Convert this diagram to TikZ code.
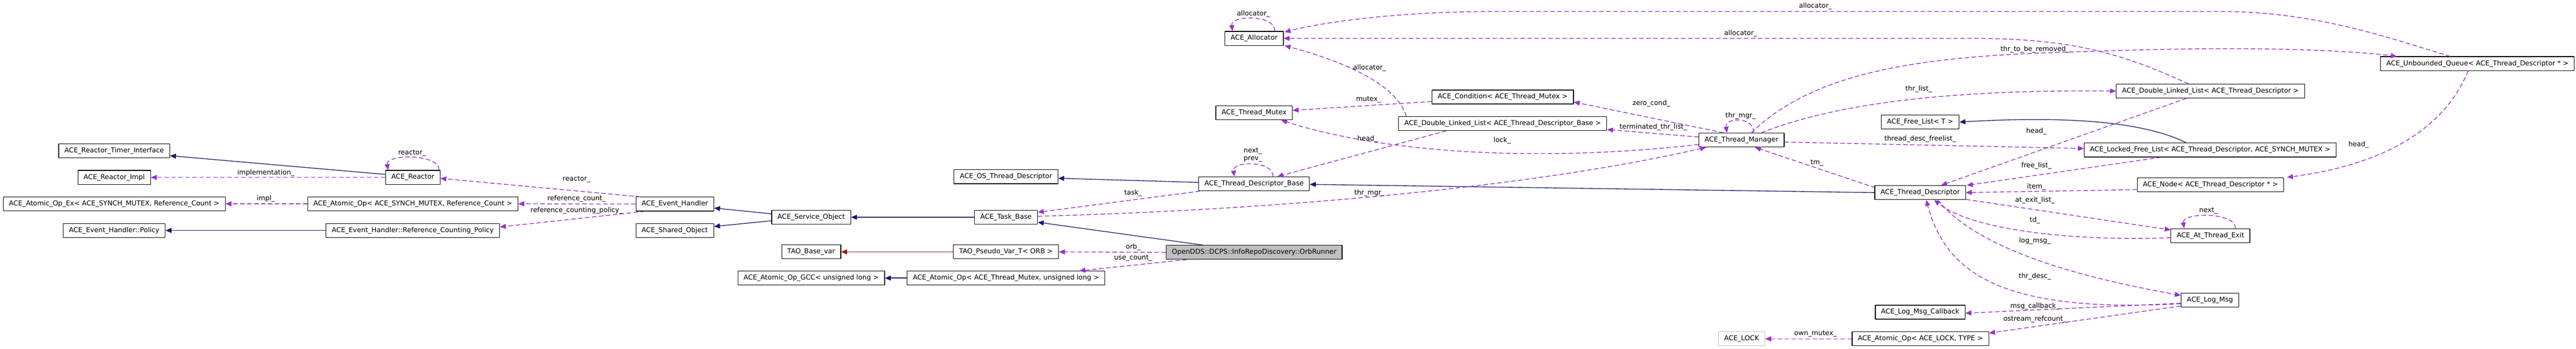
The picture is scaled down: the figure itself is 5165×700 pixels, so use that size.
\documentclass[tikz,border=0pt]{standalone}
\usepackage{fontspec}
\setmainfont{DejaVu Sans}
\usetikzlibrary{arrows.meta,calc}
\definecolor{edgeblue}{HTML}{191970}
\definecolor{edgered}{HTML}{8B1A1A}
\definecolor{edgepurple}{HTML}{9A32CD}

\begin{document}
\begin{tikzpicture}[x=1pt, y=-1pt, line join=round,
	every node/.style={font=\fontsize{13.6}{16}\selectfont},
	cls/.style={draw=black, line width=1.2pt, fill=white, minimum height=28pt, inner xsep=11.5pt, inner ysep=0pt},
	focus/.style={cls, fill=black!25},
	ghost/.style={cls, draw=black!25},
	inh/.style={draw=edgeblue, line width=1.4pt, -{Triangle[length=12pt,width=10pt]}},
	priv/.style={inh, draw=edgered},
	use/.style={draw=edgepurple, line width=1.5pt, dash pattern=on 9pt off 5pt, -{Triangle[length=12pt,width=10pt]}},
	lbl/.style={inner sep=1pt}]
	\useasboundingbox (0,0) rectangle (5165,700);

	\node[cls] (timer) at (229,302.5) {ACE\_Reactor\_Timer\_Interface};
	\node[cls] (rimpl) at (229,356) {ACE\_Reactor\_Impl};
	\node[cls] (opex) at (229,409) {ACE\_Atomic\_Op\_Ex< ACE\_SYNCH\_MUTEX, Reference\_Count >};
	\node[cls] (policy) at (229,462.5) {ACE\_Event\_Handler::Policy};
	\node[cls] (reactor) at (827.7,356) {ACE\_Reactor};
	\node[cls] (opref) at (827.7,409) {ACE\_Atomic\_Op< ACE\_SYNCH\_MUTEX, Reference\_Count >};
	\node[cls] (rcpol) at (827.7,462.5) {ACE\_Event\_Handler::Reference\_Counting\_Policy};
	\node[cls] (evh) at (1353,409.5) {ACE\_Event\_Handler};
	\node[cls] (shobj) at (1353,462.5) {ACE\_Shared\_Object};
	\node[cls] (svcobj) at (1626.5,436) {ACE\_Service\_Object};
	\node[cls] (tbvar) at (1626.5,505.5) {TAO\_Base\_var};
	\node[cls] (gcc) at (1626.5,558) {ACE\_Atomic\_Op\_GCC< unsigned long >};
	\node[cls] (ostd) at (2017,354.7) {ACE\_OS\_Thread\_Descriptor};
	\node[cls] (task) at (2017,436) {ACE\_Task\_Base};
	\node[cls] (pseudo) at (2017,505.5) {TAO\_Pseudo\_Var\_T< ORB >};
	\node[cls] (optm) at (2017,558) {ACE\_Atomic\_Op< ACE\_Thread\_Mutex, unsigned long >};
	\node[cls] (alloc) at (2514.5,77) {ACE\_Allocator};
	\node[cls] (tmutex) at (2514.5,226.5) {ACE\_Thread\_Mutex};
	\node[cls] (tdbase) at (2514.5,369) {ACE\_Thread\_Descriptor\_Base};
	\node[focus] (orb) at (2514.5,506.5) {OpenDDS::DCPS::InfoRepoDiscovery::OrbRunner};
	\node[cls] (cond) at (3013,194.7) {ACE\_Condition< ACE\_Thread\_Mutex >};
	\node[cls] (dlltdb) at (3013,248) {ACE\_Double\_Linked\_List< ACE\_Thread\_Descriptor\_Base >};
	\node[cls] (mgr) at (3491.7,281) {ACE\_Thread\_Manager};
	\node[ghost] (lock) at (3492,680) {ACE\_LOCK};
	\node[cls] (freel) at (3850,245) {ACE\_Free\_List< T >};
	\node[cls] (td) at (3850,386.5) {ACE\_Thread\_Descriptor};
	\node[cls] (lmcb) at (3850,626.5) {ACE\_Log\_Msg\_Callback};
	\node[cls] (oplock) at (3850.5,680) {ACE\_Atomic\_Op< ACE\_LOCK, TYPE >};
	\node[cls] (dlltd) at (4432,182.8) {ACE\_Double\_Linked\_List< ACE\_Thread\_Descriptor >};
	\node[cls] (lfl) at (4431.5,301) {ACE\_Locked\_Free\_List< ACE\_Thread\_Descriptor, ACE\_SYNCH\_MUTEX >};
	\node[cls] (tnode) at (4432,370.5) {ACE\_Node< ACE\_Thread\_Descriptor * >};
	\node[cls] (atexit) at (4432,473) {ACE\_At\_Thread\_Exit};
	\node[cls] (logmsg) at (4431,602.5) {ACE\_Log\_Msg};
	\node[cls] (uqueue) at (4967.5,127.7) {ACE\_Unbounded\_Queue< ACE\_Thread\_Descriptor * >};

	\draw[inh] ($(reactor.west)+(0,-6)$) -- ($(timer.east)+(0,10)$);
	\draw[use] (reactor.west) -- (rimpl.east);
	\draw[use] ($(reactor.north east)+(-3,0)$) .. controls +(3,-33) and +(-5,-33) .. ($(reactor.north west)+(5.5,0)$);
	\draw[use] ($(evh.north west)+(10,0)$) -- ($(reactor.east)+(0,2)$);
	\draw[use] (evh.west) -- (opref.east);
	\draw[use] ($(evh.south west)+(19,0)$) -- ($(rcpol.east)+(0,-7)$);
	\draw[use] (opref.west) -- (opex.east);
	\draw[inh] (rcpol.west) -- (policy.east);
	\draw[inh] ($(svcobj.west)+(0,-7)$) -- ($(evh.east)+(0,8)$);
	\draw[inh] ($(svcobj.west)+(0,7)$) -- ($(shobj.east)+(0,-8)$);
	\draw[inh] (task.west) -- (svcobj.east);
	\draw[priv] (pseudo.west) -- (tbvar.east);
	\draw[inh] (optm.west) -- (gcc.east);
	\draw[inh] ($(tdbase.west)+(0,-3)$) -- ($(ostd.east)+(0,3)$);
	\draw[inh] ($(orb.north west)+(75,0)$) -- ($(task.east)+(0,10)$);
	\draw[inh] (td.west) -- ($(tdbase.east)+(0,1)$);
	\draw[use] ($(tdbase.south west)+(3,0)$) -- ($(task.east)+(0,-10)$);
	\draw[use] ($(task.east)+(0,-2)$) .. controls (2600,420) and (3100,370) .. ($(mgr.south west)+(15,0)$);
	\draw[use] (orb.west) -- (pseudo.east);
	\draw[use] ($(orb.south west)+(42,0)$) -- ($(optm.north east)+(-52,0)$);
	\draw[use] ($(tdbase.north east)+(-74,0)$) .. controls +(3,-32) and +(-5,-32) .. ($(tdbase.north west)+(72,0)$);
	\draw[use] ($(dlltdb.south west)+(96,0)$) -- ($(tdbase.north east)+(-65,0)$);
	\draw[use] ($(dlltdb.north west)+(16,0)$) .. controls (2800,170) and (2700,125) .. ($(alloc.south east)+(2,0)$);
	\draw[use] ($(cond.west)+(0,9)$) -- ($(tmutex.east)+(0,-5)$);
	\draw[use] ($(mgr.west)+(0,9)$) .. controls (3050,330) and (2750,300) .. ($(tmutex.south east)+(-23,0)$);
	\draw[use] ($(mgr.north west)+(50,0)$) -- ($(cond.east)+(0,10)$);
	\draw[use] ($(mgr.west)+(0,-6)$) -- ($(dlltdb.east)+(0,12)$);
	\draw[use] ($(mgr.north)+(24,0)$) .. controls +(3,-32) and +(-5,-32) .. ($(mgr.north)+(-29,0)$);
	\draw[use] ($(mgr.north)+(20,0)$) .. controls (3650,130) and (3900,110) .. (4200,103) .. controls (4500,92) and (4700,100) .. ($(uqueue.north west)+(33,0)$);
	\draw[use] ($(mgr.north)+(40,0)$) .. controls (3700,200) and (3950,180) .. (dlltd.west);
	\draw[use] ($(mgr.east)+(0,4)$) -- ($(lfl.west)+(0,-3)$);
	\draw[use] ($(td.north west)+(2,5)$) -- ($(mgr.south)+(27,0)$);
	\draw[use] ($(dlltd.south west)+(141,0)$) -- ($(td.north)+(42,0)$);
	\draw[inh] ($(lfl.north west)+(205,0)$) .. controls (4300,245) and (4150,232) .. (freel.east);
	\draw[use] ($(lfl.south west)+(155,0)$) -- ($(td.north east)+(2,0)$);
	\draw[use] ($(tnode.west)+(0,10)$) -- (td.east);
	\draw[use] ($(td.south east)+(0,-1)$) -- ($(atexit.north west)+(0,3)$);
	\draw[use] ($(atexit.west)+(0,4)$) .. controls (4150,485) and (3950,460) .. ($(td.south)+(28,0)$);
	\draw[use] ($(atexit.north east)+(-30,0)$) .. controls +(3,-33) and +(-5,-33) .. ($(atexit.north west)+(27,0)$);
	\draw[use] ($(td.south)+(35,0)$) .. controls (3980,520) and (4250,570) .. ($(logmsg.north west)+(0,5)$);
	\draw[use] ($(logmsg.west)+(0,7)$) .. controls (4000,630) and (3900,540) .. ($(td.south)+(12,0)$);
	\draw[use] ($(logmsg.west)+(0,6)$) -- ($(lmcb.east)+(0,2)$);
	\draw[use] ($(logmsg.south west)+(0,-3)$) -- ($(oplock.north east)+(0,3)$);
	\draw[use] (oplock.west) -- (lock.east);
	\draw[use] ($(uqueue.north west)+(140,0)$) .. controls (4800,80) and (4650,23) .. (4450,23) -- (3000,23) .. controls (2800,23) and (2650,45) .. ($(alloc.north east)+(2,2)$);
	\draw[use] ($(dlltd.north west)+(145,0)$) .. controls (4250,105) and (4150,77) .. (3950,77) -- (alloc.east);
	\draw[use] ($(uqueue.south west)+(176,0)$) .. controls (4900,260) and (4780,330) .. ($(tnode.north east)+(6,0)$);
	\draw[use] ($(alloc.north east)+(-18,0)$) .. controls +(3,-33) and +(-5,-33) .. ($(alloc.north west)+(16,0)$);

	\node[lbl] (lAllocSelf) at (2513,28) {allocator\_};
	\node[lbl] (lAllocQueue) at (3640,12) {allocator\_};
	\node[lbl] (lAllocList) at (3490,67) {allocator\_};
	\node[lbl] (lAllocBase) at (2746,136) {allocator\_};
	\node[lbl] (lRemoved) at (4080,99) {thr\_to\_be\_removed\_};
	\node[lbl] (lThrList) at (3847,179) {thr\_list\_};
	\node[lbl] (lZeroCond) at (3311,208) {zero\_cond\_};
	\node[lbl] (lMutex) at (2744,200) {mutex\_};
	\node[lbl] (lMgrSelf) at (3490,232) {thr\_mgr\_};
	\node[lbl] (lTerminated) at (3315,255) {terminated\_thr\_list\_};
	\node[lbl] (lHeadList) at (4083,263) {head\_};
	\node[lbl] (lFreelist) at (3850,279) {thread\_desc\_freelist\_};
	\node[lbl] (lHeadBase) at (2742,279) {head\_};
	\node[lbl] (lLock) at (3012,282) {lock\_};
	\node[lbl] (lHeadQueue) at (4729,290) {head\_};
	\node[lbl] (lNextBase) at (2512,303) {next\_};
	\node[lbl] (lPrevBase) at (2512,320) {prev\_};
	\node[lbl] (lTm) at (3643,327) {tm\_};
	\node[lbl] (lFreeList) at (4083,333) {free\_list\_};
	\node[lbl] (lItem) at (4083,375) {item\_};
	\node[lbl] (lTask) at (2272,387) {task\_};
	\node[lbl] (lThrMgr) at (2746,387) {thr\_mgr\_};
	\node[lbl] (lAtExit) at (4080,402) {at\_exit\_list\_};
	\node[lbl] (lNextExit) at (4428,423) {next\_};
	\node[lbl] (lTd) at (4080,442) {td\_};
	\node[lbl] (lLogMsg) at (4080,483) {log\_msg\_};
	\node[lbl] (lOrb) at (2272,496) {orb\_};
	\node[lbl] (lUseCount) at (2272,518) {use\_count\_};
	\node[lbl] (lThrDesc) at (4080,555) {thr\_desc\_};
	\node[lbl] (lCallback) at (4080,615) {msg\_callback\_};
	\node[lbl] (lRefcount) at (4080,641) {ostream\_refcount\_};
	\node[lbl] (lOwnMutex) at (3640,670) {own\_mutex\_};
	\node[lbl] (lReactorSelf) at (826,307) {reactor\_};
	\node[lbl] (lImplementation) at (533,347) {implementation\_};
	\node[lbl] (lImpl) at (533,399) {impl\_};
	\node[lbl] (lReactor) at (1156,360) {reactor\_};
	\node[lbl] (lRefCount) at (1156,399) {reference\_count\_};
	\node[lbl] (lRefPolicy) at (1156,423) {reference\_counting\_policy\_};
\end{tikzpicture}
\end{document}
